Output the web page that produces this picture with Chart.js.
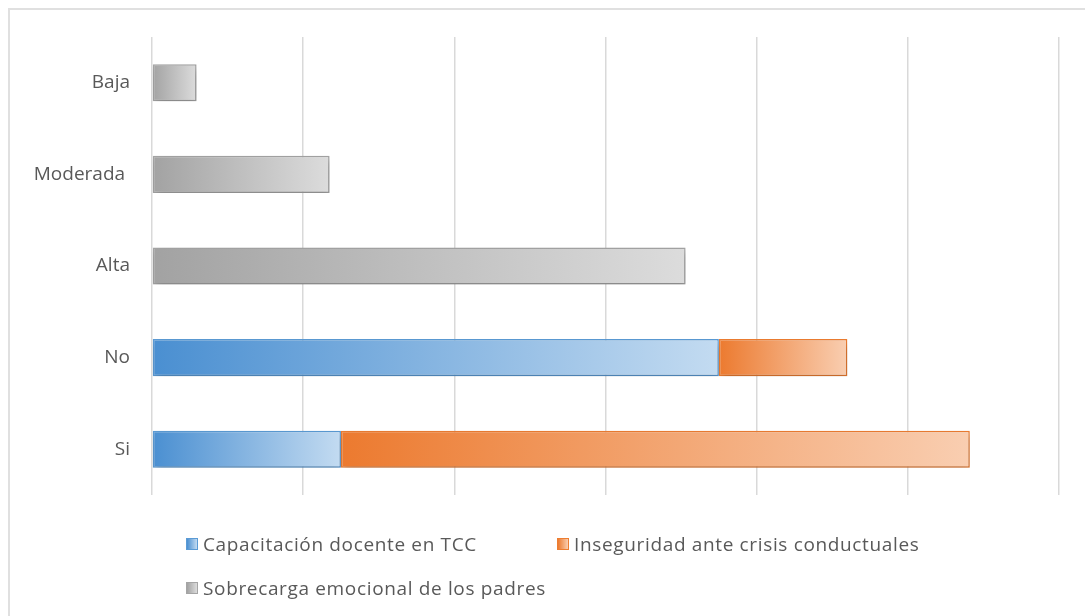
<!DOCTYPE html>
<html lang="es">
<head>
    <meta charset="UTF-8">
    <title>Gráfico</title>
    <script src="https://cdn.jsdelivr.net/npm/chart.js"></script>
    <style>
        html, body { margin: 0; padding: 0; background: #fff; }
        body { width: 1085px; height: 616px; position: relative; overflow: hidden; font-family: "Open Sans", sans-serif; }
        /* marco gris del gráfico */
        #marco {
            position: absolute; left: 8px; top: 8px; right: -10px; bottom: -10px;
            border: 2px solid #e0e0e0;
        }
        #contenedor { position: absolute; left: 0; top: 0; width: 1085px; height: 616px; }
        #leyenda {
            position: absolute; left: 186px; top: 531px; width: 800px;
            display: grid; grid-template-columns: 371px 400px; row-gap: 18px;
            color: #595959; font-size: 19px; letter-spacing: 0.65px;
        }
        .item { display: flex; align-items: center; height: 26px; white-space: nowrap; }
        .caja { width: 12px; height: 12px; margin-right: 5px; box-sizing: border-box; border: 1px solid; }
    </style>
</head>
<body>
    <div id="marco"></div>
    <div id="contenedor"><canvas id="grafico" width="1085" height="616"></canvas></div>
    <div id="leyenda"></div>

    <script>
        // Datos
        const categorias = ['Baja', 'Moderada ', 'Alta', 'No', 'Si'];
        const capacitacion = [null, null, null, 75, 25];
        const inseguridad = [null, null, null, 17, 83.2];
        const sobrecarga = [5.9, 23.5, 70.6, null, null];
        const nombresSeries = [
            'Capacitación docente en TCC',
            'Inseguridad ante crisis conductuales',
            'Sobrecarga emocional de los padres'
        ];
        const ejeMax = 120;
        const ejePaso = 20;

        // colores: [oscuro, claro, borde]
        const colores = [
            ['#4a8fd1', '#c3dbf1', '#5b9bd5'],
            ['#ec7a2f', '#f9ceb1', '#ed7d31'],
            ['#a2a2a2', '#dcdcdc', '#a5a5a5']
        ];
        const series = [capacitacion, inseguridad, sobrecarga];

        // degradado horizontal para cada segmento de barra
        function degradado(ctx, serie) {
            const chart = ctx.chart;
            if (!chart.chartArea || ctx.type !== 'data') return colores[serie][0];
            const i = ctx.dataIndex;
            let inicio = 0;
            for (let s = 0; s < serie; s++) inicio += series[s][i] || 0;
            const valor = series[serie][i] || 0;
            const x = chart.scales.x;
            const x0 = x.getPixelForValue(inicio);
            const x1 = x.getPixelForValue(inicio + valor);
            const g = chart.ctx.createLinearGradient(x0, 0, Math.max(x1, x0 + 1), 0);
            g.addColorStop(0, colores[serie][0]);
            g.addColorStop(1, colores[serie][1]);
            return g;
        }

        const sombra = {
            id: 'sombra',
            beforeDatasetsDraw(chart) {
                const c = chart.ctx;
                c.save();
                c.shadowColor = 'rgba(0,0,0,0.2)';
                c.shadowBlur = 8;
                c.shadowOffsetX = 2;
                c.shadowOffsetY = 4;
            },
            afterDatasetsDraw(chart) { chart.ctx.restore(); }
        };

        const ctx = document.getElementById('grafico').getContext('2d');
        const grafico = new Chart(ctx, {
            type: 'bar',
            data: {
                labels: categorias,
                datasets: series.map((d, s) => ({
                    label: nombresSeries[s],
                    data: d,
                    backgroundColor: c => degradado(c, s),
                    borderColor: colores[s][2],
                    borderWidth: 1.5,
                    borderSkipped: false,
                    barPercentage: 0.405,
                    categoryPercentage: 1
                }))
            },
            options: {
                indexAxis: 'y',
                responsive: false,
                animation: false,
                devicePixelRatio: 1,
                layout: { padding: { top: 37, bottom: 121, right: 26, left: 0 } },
                plugins: { legend: { display: false }, tooltip: { enabled: false } },
                scales: {
                    x: {
                        stacked: true, min: 0, max: ejeMax,
                        ticks: { display: false, stepSize: ejePaso },
                        grid: { color: '#d9d9d9', lineWidth: 1.5, drawTicks: false },
                        border: { display: false }
                    },
                    y: {
                        stacked: true,
                        grid: { display: false, drawTicks: false },
                        border: { display: false },
                        ticks: { color: '#595959', font: { family: 'Open Sans', size: 19 }, padding: 22 },
                        afterFit(scale) { scale.width = 152; }
                    }
                }
            },
            plugins: [sombra]
        });

        // leyenda HTML
        const leyenda = document.getElementById('leyenda');
        nombresSeries.forEach((n, s) => {
            const item = document.createElement('div');
            item.className = 'item';
            const caja = document.createElement('span');
            caja.className = 'caja';
            caja.style.background = 'linear-gradient(to right, ' + colores[s][0] + ', ' + colores[s][1] + ')';
            caja.style.borderColor = colores[s][2];
            const texto = document.createElement('span');
            texto.textContent = n;
            item.appendChild(caja);
            item.appendChild(texto);
            leyenda.appendChild(item);
        });
    </script>
</body>
</html>
